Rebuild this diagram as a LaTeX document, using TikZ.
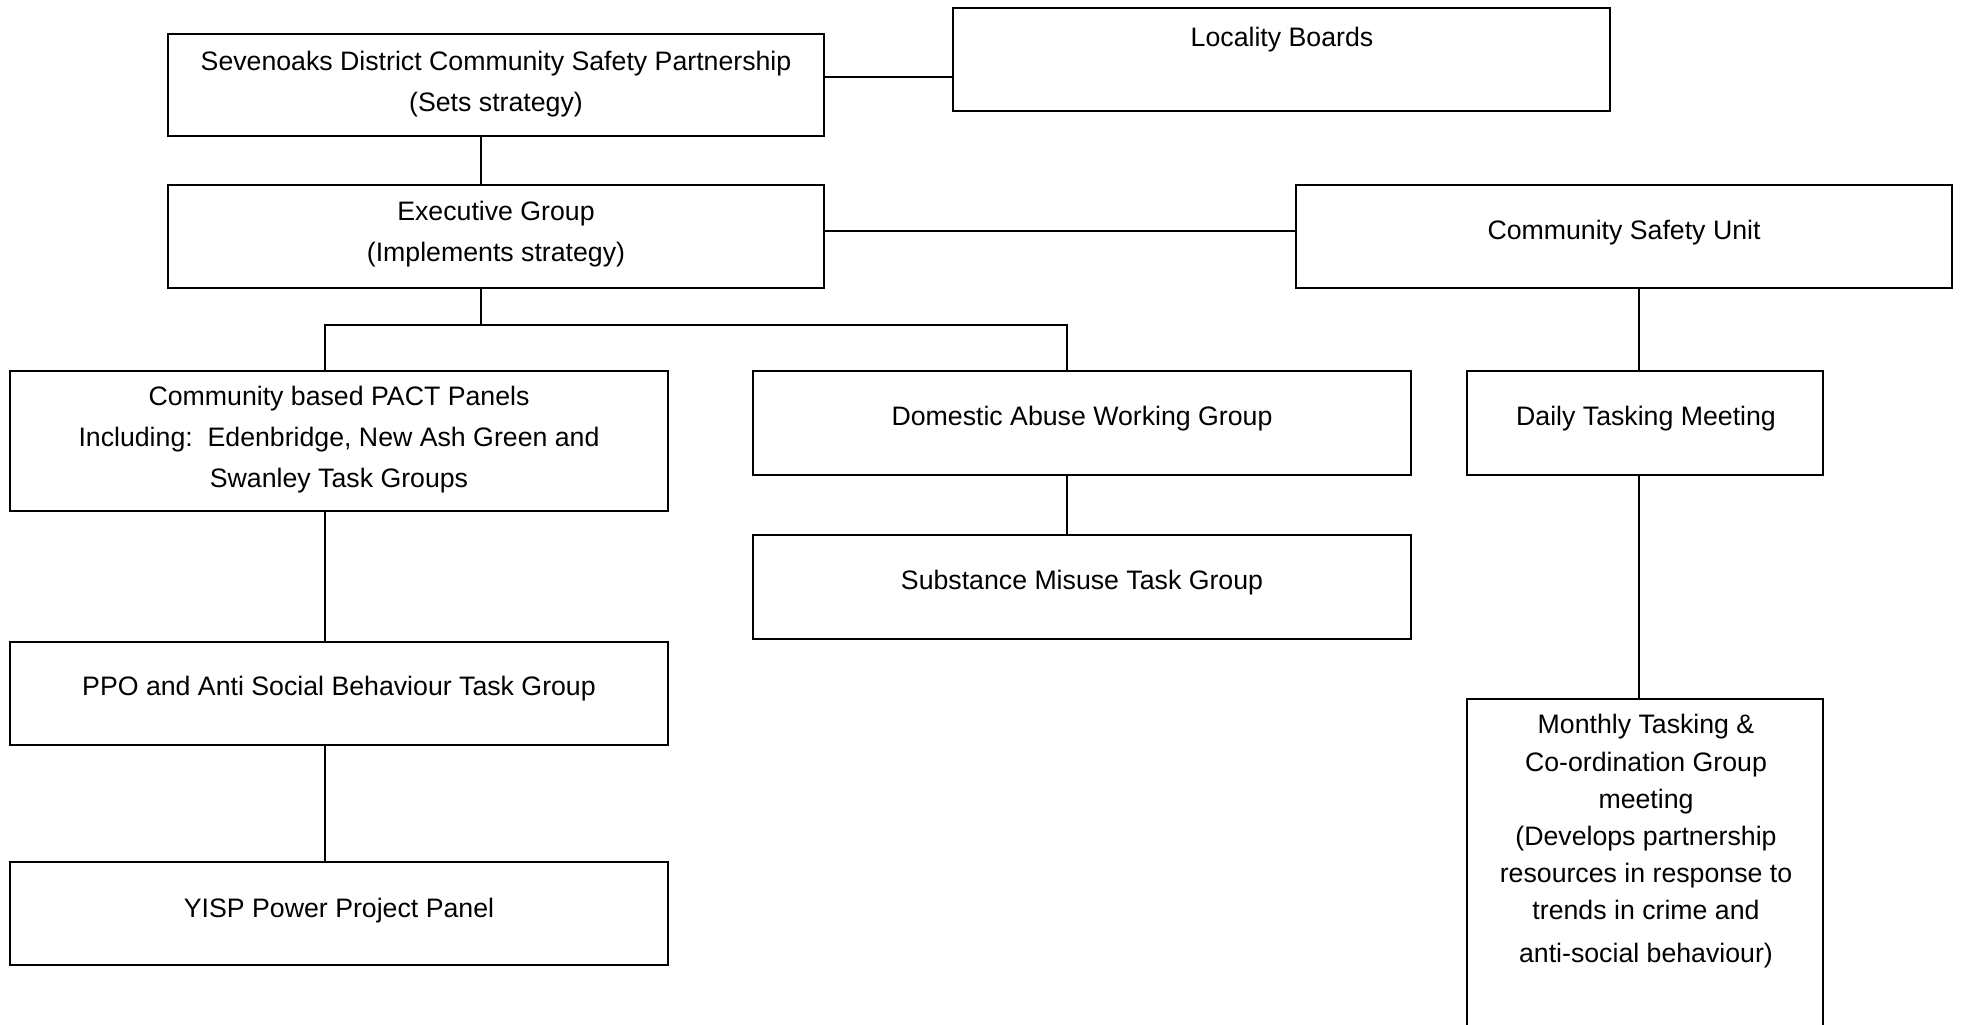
\documentclass[tikz,border=0pt]{standalone}
\usepackage{fontspec}
\setmainfont{Liberation Sans}
\usetikzlibrary{fit}
\begin{document}
\begin{tikzpicture}[x=0.5pt,y=-0.5pt,
  box/.style={draw=black,line width=1pt,inner sep=0pt,fill=white},
  txt/.style={align=center,inner sep=0pt,font=\fontsize{13.35pt}{20.5pt}\selectfont},
  mtxt/.style={align=center,inner sep=0pt,font=\fontsize{13.35pt}{18.6pt}\selectfont},
  conn/.style={draw=black,line width=0.8pt}]
\useasboundingbox (0,0) rectangle (1961,1024);
\begin{scope}
\clip (0,0) rectangle (1961,1024);
% boxes
\node[box,fit={(168,34) (824,136)}] (sdcsp) {};
\node[box,fit={(953,8) (1610,111)}] (loc) {};
\node[box,fit={(168,185) (824,288)}] (exec) {};
\node[box,fit={(1296,185) (1952,288)}] (csu) {};
\node[box,fit={(10,371) (668,511)}] (pact) {};
\node[box,fit={(753,371) (1411,475)}] (dawg) {};
\node[box,fit={(753,535) (1411,639)}] (smtg) {};
\node[box,fit={(1467,371) (1823,475)}] (dtm) {};
\node[box,fit={(10,642) (668,745)}] (ppo) {};
\node[box,fit={(10,862) (668,965)}] (yisp) {};
\node[box,fit={(1467,699) (1823,1060)}] (mon) {};
% texts
\node[txt] (tsdcsp) at (496,84) {Sevenoaks District Community Safety Partnership\\(Sets strategy)};
\node[txt] (tloc) at (1282,40) {Locality Boards};
\node[txt] (texec) at (496,234) {Executive Group\\(Implements strategy)};
\node[txt] (tcsu) at (1624,233) {Community Safety Unit};
\node[txt] (tpact) at (339,440) {Community based PACT Panels\\Including:\ \ Edenbridge, New Ash Green and\\Swanley Task Groups};
\node[txt] (tdawg) at (1082,419) {Domestic Abuse Working Group};
\node[txt] (tsmtg) at (1082,583) {Substance Misuse Task Group};
\node[txt] (tdtm) at (1646,419) {Daily Tasking Meeting};
\node[txt] (tppo) at (339,689) {PPO and Anti Social Behaviour Task Group};
\node[txt] (tyisp) at (339,911) {YISP Power Project Panel};
\node[mtxt] (tmon) at (1646,841) {Monthly Tasking \&\\Co-ordination Group\\meeting\\(Develops partnership\\resources in response to\\trends in crime and\\[2.5pt]anti-social behaviour)};
% connectors
\coordinate (j) at (481,325);
\coordinate (jl) at (325,325);
\coordinate (jr) at (1067,325);
\draw[conn] (sdcsp.east |- 0,77) -- (loc.west |- 0,77);
\draw[conn] (exec.east |- 0,231) -- (csu.west |- 0,231);
\draw[conn] (sdcsp.south -| j) -- (exec.north -| j);
\draw[conn] (exec.south -| j) -- (j);
\draw[conn] (pact.north -| jl) -- (jl) -- (jr) -- (dawg.north -| jr);
\draw[conn] (dawg.south -| jr) -- (smtg.north -| jr);
\draw[conn] (pact.south -| jl) -- (ppo.north -| jl);
\draw[conn] (ppo.south -| jl) -- (yisp.north -| jl);
\draw[conn] (csu.south -| 1639,0) -- (dtm.north -| 1639,0);
\draw[conn] (dtm.south -| 1639,0) -- (mon.north -| 1639,0);
\end{scope}
\end{tikzpicture}
\end{document}
